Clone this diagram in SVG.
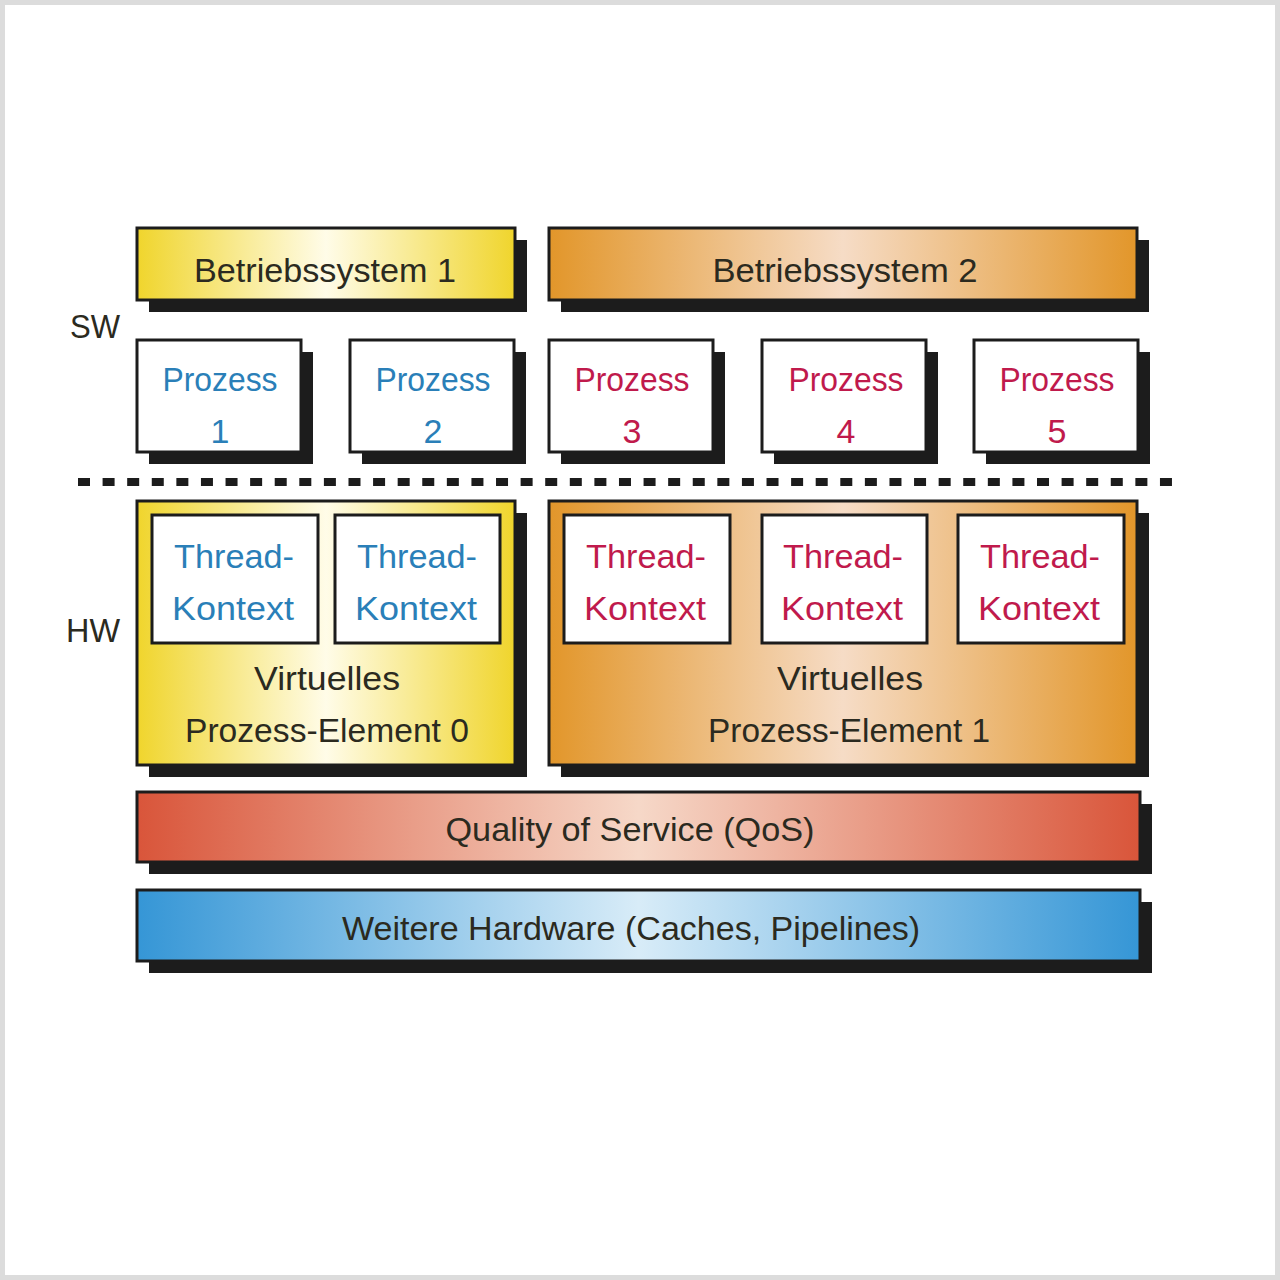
<svg xmlns="http://www.w3.org/2000/svg" width="1280" height="1280" viewBox="0 0 1280 1280">
<defs>
<linearGradient id="gY" x1="0" y1="0" x2="1" y2="0">
<stop offset="0" stop-color="#f0d52c"/><stop offset="0.5" stop-color="#fffce8"/><stop offset="1" stop-color="#f0d52c"/>
</linearGradient>
<linearGradient id="gO" x1="0" y1="0" x2="1" y2="0">
<stop offset="0" stop-color="#e2962a"/><stop offset="0.5" stop-color="#f6dcc6"/><stop offset="1" stop-color="#e2962a"/>
</linearGradient>
<linearGradient id="gR" x1="0" y1="0" x2="1" y2="0">
<stop offset="0" stop-color="#d9553a"/><stop offset="0.5" stop-color="#f6d8c8"/><stop offset="1" stop-color="#d9553a"/>
</linearGradient>
<linearGradient id="gB" x1="0" y1="0" x2="1" y2="0">
<stop offset="0" stop-color="#3596d6"/><stop offset="0.5" stop-color="#d8ecf8"/><stop offset="1" stop-color="#3596d6"/>
</linearGradient>
</defs>
<style>
.sh{fill:#1c1c1c}
.bx{stroke:#1c1c1c;stroke-width:3}
.wb{fill:#ffffff;stroke:#1c1c1c;stroke-width:3}
text{font-family:"Liberation Sans",Arial,sans-serif;font-size:34px;text-anchor:middle}
.dk{fill:#2b2a20}
.bl{fill:#2a7fb8}
.rd{fill:#c01a4c}
</style>
<rect x="2.5" y="2.5" width="1275" height="1275" fill="#ffffff" stroke="#dcdcdc" stroke-width="5"/>

<text class="dk" x="95" y="338" textLength="50" lengthAdjust="spacingAndGlyphs">SW</text>
<text class="dk" x="93" y="642" textLength="54" lengthAdjust="spacingAndGlyphs">HW</text>

<g id="bs1">
<rect class="sh" x="149" y="240" width="378" height="72"/>
<rect class="bx" x="137" y="228" width="378" height="72" fill="url(#gY)"/>
<text class="dk" x="325" y="282" textLength="262" lengthAdjust="spacingAndGlyphs">Betriebssystem 1</text>
</g>
<g id="bs2">
<rect class="sh" x="561" y="240" width="588" height="72"/>
<rect class="bx" x="549" y="228" width="588" height="72" fill="url(#gO)"/>
<text class="dk" x="845" y="282" textLength="265" lengthAdjust="spacingAndGlyphs">Betriebssystem 2</text>
</g>

<g id="p1">
<rect class="sh" x="149" y="352" width="164" height="112"/>
<rect class="wb" x="137" y="340" width="164" height="112"/>
<text class="bl" x="220" y="391" textLength="115" lengthAdjust="spacingAndGlyphs">Prozess</text>
<text class="bl" x="220" y="443">1</text>
</g>
<g id="p2">
<rect class="sh" x="362" y="352" width="164" height="112"/>
<rect class="wb" x="350" y="340" width="164" height="112"/>
<text class="bl" x="433" y="391" textLength="115" lengthAdjust="spacingAndGlyphs">Prozess</text>
<text class="bl" x="433" y="443">2</text>
</g>
<g id="p3">
<rect class="sh" x="561" y="352" width="164" height="112"/>
<rect class="wb" x="549" y="340" width="164" height="112"/>
<text class="rd" x="632" y="391" textLength="115" lengthAdjust="spacingAndGlyphs">Prozess</text>
<text class="rd" x="632" y="443">3</text>
</g>
<g id="p4">
<rect class="sh" x="774" y="352" width="164" height="112"/>
<rect class="wb" x="762" y="340" width="164" height="112"/>
<text class="rd" x="846" y="391" textLength="115" lengthAdjust="spacingAndGlyphs">Prozess</text>
<text class="rd" x="846" y="443">4</text>
</g>
<g id="p5">
<rect class="sh" x="986" y="352" width="164" height="112"/>
<rect class="wb" x="974" y="340" width="164" height="112"/>
<text class="rd" x="1057" y="391" textLength="115" lengthAdjust="spacingAndGlyphs">Prozess</text>
<text class="rd" x="1057" y="443">5</text>
</g>

<g id="connectors">
<line x1="78" y1="482" x2="1172" y2="482" stroke="#1c1c1c" stroke-width="8" stroke-dasharray="12 12.59"/>
</g>

<g id="vpe0">
<rect class="sh" x="149" y="513" width="378" height="264"/>
<rect class="bx" x="137" y="501" width="378" height="264" fill="url(#gY)"/>
<rect class="wb" x="152" y="515" width="166" height="128"/>
<rect class="wb" x="335" y="515" width="165" height="128"/>
<text class="bl" x="234" y="568" textLength="120" lengthAdjust="spacingAndGlyphs">Thread-</text>
<text class="bl" x="233" y="620" textLength="122" lengthAdjust="spacingAndGlyphs">Kontext</text>
<text class="bl" x="417" y="568" textLength="120" lengthAdjust="spacingAndGlyphs">Thread-</text>
<text class="bl" x="416" y="620" textLength="122" lengthAdjust="spacingAndGlyphs">Kontext</text>
<text class="dk" x="327" y="690" textLength="146" lengthAdjust="spacingAndGlyphs">Virtuelles</text>
<text class="dk" x="327" y="742" textLength="284" lengthAdjust="spacingAndGlyphs">Prozess-Element 0</text>
</g>
<g id="vpe1">
<rect class="sh" x="561" y="513" width="588" height="264"/>
<rect class="bx" x="549" y="501" width="588" height="264" fill="url(#gO)"/>
<rect class="wb" x="564" y="515" width="166" height="128"/>
<rect class="wb" x="762" y="515" width="165" height="128"/>
<rect class="wb" x="958" y="515" width="166" height="128"/>
<text class="rd" x="646" y="568" textLength="120" lengthAdjust="spacingAndGlyphs">Thread-</text>
<text class="rd" x="645" y="620" textLength="122" lengthAdjust="spacingAndGlyphs">Kontext</text>
<text class="rd" x="843" y="568" textLength="120" lengthAdjust="spacingAndGlyphs">Thread-</text>
<text class="rd" x="842" y="620" textLength="122" lengthAdjust="spacingAndGlyphs">Kontext</text>
<text class="rd" x="1040" y="568" textLength="120" lengthAdjust="spacingAndGlyphs">Thread-</text>
<text class="rd" x="1039" y="620" textLength="122" lengthAdjust="spacingAndGlyphs">Kontext</text>
<text class="dk" x="850" y="690" textLength="146" lengthAdjust="spacingAndGlyphs">Virtuelles</text>
<text class="dk" x="849" y="742" textLength="282" lengthAdjust="spacingAndGlyphs">Prozess-Element 1</text>
</g>

<g id="qos">
<rect class="sh" x="149" y="804" width="1003" height="70"/>
<rect class="bx" x="137" y="792" width="1003" height="70" fill="url(#gR)"/>
<text class="dk" x="630" y="841" textLength="369" lengthAdjust="spacingAndGlyphs">Quality of Service (QoS)</text>
</g>
<g id="hw">
<rect class="sh" x="149" y="902" width="1003" height="71"/>
<rect class="bx" x="137" y="890" width="1003" height="71" fill="url(#gB)"/>
<text class="dk" x="631" y="940" textLength="578" lengthAdjust="spacingAndGlyphs">Weitere Hardware (Caches, Pipelines)</text>
</g>
</svg>
